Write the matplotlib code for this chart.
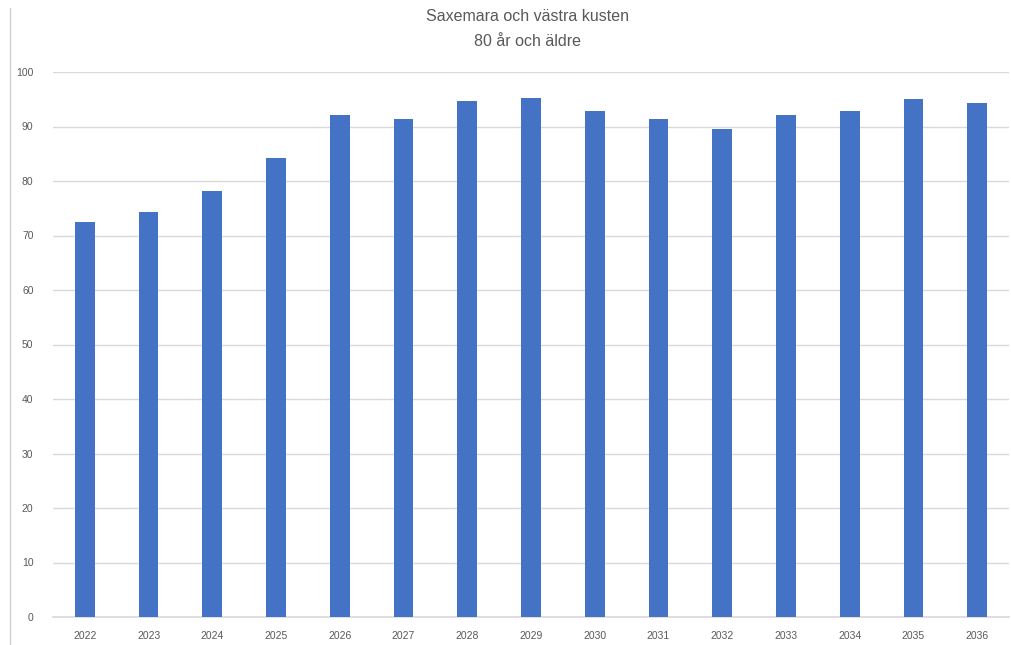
import matplotlib
matplotlib.use("Agg")
import matplotlib.pyplot as plt
from matplotlib.lines import Line2D

years = ["2022", "2023", "2024", "2025", "2026", "2027", "2028", "2029",
         "2030", "2031", "2032", "2033", "2034", "2035", "2036"]
values = [72.4, 74.3, 78.2, 84.3, 92.1, 91.4, 94.7, 95.2,
          92.8, 91.4, 89.5, 92.1, 92.8, 95.0, 94.3]
yticks = [0, 10, 20, 30, 40, 50, 60, 70, 80, 90, 100]
title = "Saxemara och västra kusten\n80 år och äldre"

plt.rcParams['font.family'] = ['Liberation Sans', 'DejaVu Sans']

fig = plt.figure(figsize=(10.12, 6.45), dpi=100)
W, H = 1012, 645
ax = fig.add_axes([53 / W, 1 - 617 / H, (1009 - 53) / W, (617 - 72) / H])

x = list(range(len(years)))
ax.bar(x, values, width=0.31, color="#4472C4", zorder=3)
ax.set_xlim(-0.5, len(years) - 0.5)
ax.set_ylim(0, 100)
ax.set_yticks(yticks)
ax.set_xticks(x)
ax.set_xticklabels(years)
ax.grid(axis="y", color="#D9D9D9", linewidth=1, zorder=0)
ax.axhline(0, color="#D9D9D9", linewidth=1.2, zorder=1, clip_on=False)
for s in ax.spines.values():
    s.set_visible(False)
ax.tick_params(axis="both", length=0, labelsize=7.5, colors="#595959")
ax.tick_params(axis="x", pad=10)
ax.tick_params(axis="y", pad=14)

fig.text(528 / W, 1 - 29 / H, title, ha="center", va="center",
         fontsize=11.5, color="#595959", linespacing=1.85)

fig.add_artist(Line2D([10 / W, 10 / W], [0, 1 - 8 / H], color="#D0D0D0",
                      linewidth=1, transform=fig.transFigure))

fig.savefig("out.png", dpi=100, facecolor="white")
